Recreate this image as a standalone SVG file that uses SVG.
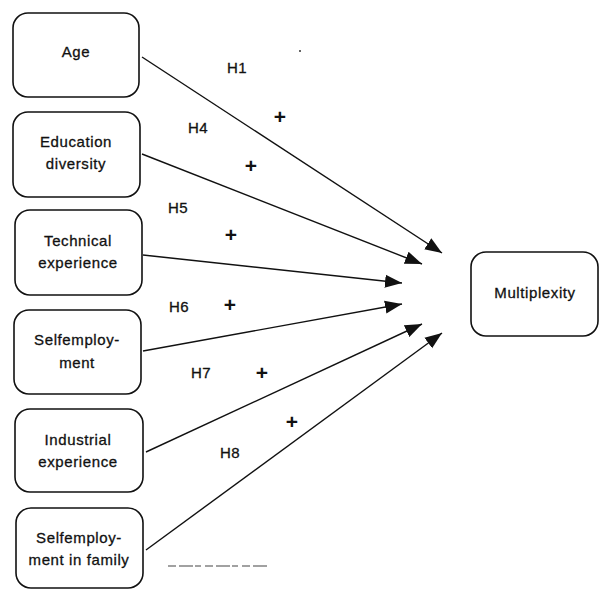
<svg xmlns="http://www.w3.org/2000/svg" width="599" height="589" viewBox="0 0 599 589">
<style>
.box{fill:#fff;stroke:#111;stroke-width:1.6}
.t{font-family:"Liberation Sans",Arial,sans-serif;font-size:15px;letter-spacing:0.6px;fill:#111;stroke:#111;stroke-width:0.3;text-anchor:middle}
.h{font-family:"Liberation Sans",Arial,sans-serif;font-size:15px;letter-spacing:0.4px;fill:#111;stroke:#111;stroke-width:0.3;text-anchor:middle}
.p{font-family:"Liberation Sans",Arial,sans-serif;font-size:21px;font-weight:bold;fill:#111;text-anchor:middle}
.c{stroke:#111;stroke-width:1.4;fill:none;marker-end:url(#ah)}
</style>
<defs>
<marker id="ah" markerUnits="userSpaceOnUse" markerWidth="18" markerHeight="14" viewBox="0 0 18 14" refX="17" refY="7" orient="auto">
<path d="M0,0.5 L17,7 L0,13.5 Z" fill="#111"/>
</marker>
</defs>
<rect width="599" height="589" fill="#fff"/>
<g id="connectors">
<line class="c" x1="142" y1="57" x2="442" y2="253"/>
<line class="c" x1="142" y1="154" x2="422" y2="264"/>
<line class="c" x1="143" y1="255" x2="402" y2="283"/>
<line class="c" x1="143" y1="351" x2="402" y2="304"/>
<line class="c" x1="146" y1="452" x2="422" y2="324"/>
<line class="c" x1="146" y1="550" x2="442" y2="333"/>
</g>
<g id="labels">
<text class="h" x="237" y="73">H1</text>
<text class="p" x="280" y="124">+</text>
<text class="h" x="198" y="133">H4</text>
<text class="p" x="251" y="173">+</text>
<text class="h" x="178" y="213">H5</text>
<text class="p" x="231" y="242">+</text>
<text class="h" x="179" y="312">H6</text>
<text class="p" x="230" y="312">+</text>
<text class="h" x="201" y="378">H7</text>
<text class="p" x="262" y="380">+</text>
<text class="h" x="230" y="458">H8</text>
<text class="p" x="292" y="429">+</text>
</g>
<g id="age">
<rect class="box" x="13" y="13" width="126" height="84" rx="15"/>
<text class="t" x="76" y="57">Age</text>
</g>
<g id="education">
<rect class="box" x="13" y="112" width="127" height="85" rx="15"/>
<text class="t" x="76" y="147">Education</text>
<text class="t" x="76" y="169">diversity</text>
</g>
<g id="technical">
<rect class="box" x="15" y="210" width="127" height="85" rx="15"/>
<text class="t" x="78" y="246">Technical</text>
<text class="t" x="78" y="268">experience</text>
</g>
<g id="selfemployment">
<rect class="box" x="14" y="310" width="127" height="84" rx="15"/>
<text class="t" x="77" y="345">Selfemploy-</text>
<text class="t" x="77" y="368">ment</text>
</g>
<g id="industrial">
<rect class="box" x="15" y="409" width="128" height="83" rx="15"/>
<text class="t" x="78" y="445">Industrial</text>
<text class="t" x="78" y="467">experience</text>
</g>
<g id="family">
<rect class="box" x="16" y="508" width="127" height="80" rx="15"/>
<text class="t" x="79" y="543">Selfemploy-</text>
<text class="t" x="79" y="565">ment in family</text>
</g>
<g id="multiplexity">
<rect class="box" x="471" y="252" width="127" height="84" rx="15"/>
<text class="t" x="535" y="298">Multiplexity</text>
</g>
<g id="specks">
<line x1="168" y1="566" x2="268" y2="566" stroke="#444" stroke-width="1.2" stroke-dasharray="8,3,14,2,6,4"/>
<circle cx="300" cy="51" r="1" fill="#333"/>
</g>
</svg>
